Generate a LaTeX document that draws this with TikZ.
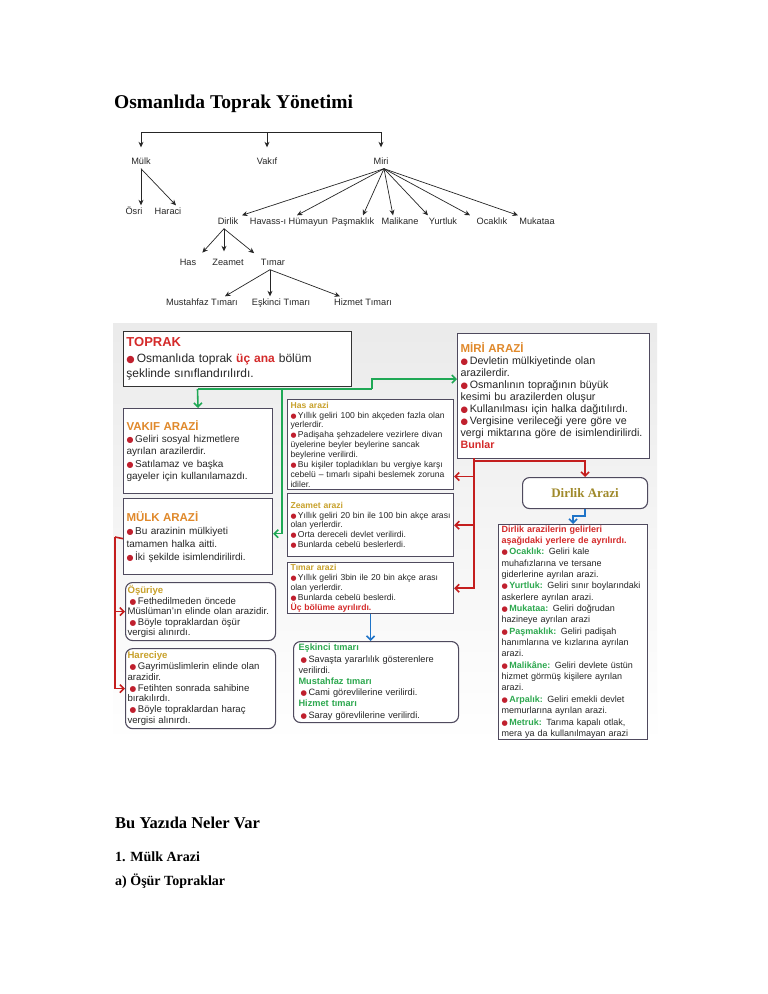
\documentclass[tikz,border=0pt]{standalone}
\usepackage{fontspec}
\setmainfont{Liberation Serif}
\setsansfont{Liberation Sans}
\newfontfamily\symfont{DejaVu Sans}
\usepackage{xcolor}
\usepackage{graphicx}
\usepackage{tikz}
\usetikzlibrary{arrows.meta, positioning}
\definecolor{tred}{HTML}{D42A2A}
\definecolor{torange}{HTML}{E0892B}
\definecolor{tolive}{HTML}{C8A12B}
\definecolor{tgreen}{HTML}{2DA84F}
\definecolor{tgold}{HTML}{A08A2C}
\definecolor{tbull}{HTML}{C0202E}
\definecolor{tframe}{HTML}{4F4A5E}
\definecolor{gline}{HTML}{1FA855}
\definecolor{rline}{HTML}{C41E1E}
\definecolor{bline}{HTML}{1F74C8}
\newcommand{\bul}{{\symfont\color{tbull}\scalebox{0.8}{●}}\,}
\newcommand{\bas}[2]{{\color{#1}\bfseries #2}}
\tikzstyle{agac} = [font=\sffamily\fontsize{9.2}{10}\selectfont, text=black!85, text height=7pt, text depth=2pt, inner sep=2pt]
\tikzstyle{okagac} = [-{Stealth[length=5.5pt, width=5pt]}, line width=0.7pt, black!85]
\tikzstyle{kutu} = [rectangle, draw=tframe, line width=1.1pt, fill=white, anchor=north west, align=left, inner xsep=3pt, inner ysep=1pt, text=black!85]
\tikzstyle{yuvarlak} = [kutu, rounded corners=7pt]
\tikzstyle{yesilhat} = [line width=1.6pt, draw=gline]
\tikzstyle{yesilok} = [yesilhat, -{Straight Barb[length=4pt, width=8pt]}]
\tikzstyle{kirmiziok} = [line width=1.6pt, draw=rline, -{Straight Barb[length=4pt, width=8pt]}]
\tikzstyle{maviok} = [line width=1.6pt, draw=bline, -{Straight Barb[length=4pt, width=8pt]}]
\tikzstyle{baslik} = [anchor=base west, inner sep=0pt, font=\bfseries]

\begin{document}
\begin{tikzpicture}[x=1pt, y=-1pt]
    \fill[white] (0,0) rectangle (768,994);
    \useasboundingbox (0,0) rectangle (768,994);

    % headings
    \node (anabaslik) [baslik, font=\bfseries\fontsize{19.5}{22}\selectfont] at (114,108) {Osmanlıda Toprak Yönetimi};
    \node (neler) [baslik, font=\bfseries\fontsize{16.5}{19}\selectfont] at (115,828) {Bu Yazıda Neler Var};
    \node (mulkbas) [baslik, font=\bfseries\fontsize{14}{16}\selectfont] at (115,861) {1. Mülk Arazi};
    \node (osurbas) [baslik, font=\bfseries\fontsize{14}{16}\selectfont] at (115,885) {a) Öşür Topraklar};

    % tree
    \coordinate (ust) at (267,132);
    \node (tmulk) [agac] at (141,162) {Mülk};
    \node (tvakif) [agac] at (267,162) {Vakıf};
    \node (tmiri) [agac] at (381,162) {Miri};
    \node (osri) [agac] at (134,212) {Ösri};
    \node (haraci) [agac] at (168,212) {Haraci};
    \node (tdirlik) [agac] at (228,222) {Dirlik};
    \node (havass) [agac] at (289,222) {Havass-ı Hümayun};
    \node (pasmaklik) [agac] at (353,222) {Paşmaklık};
    \node (malikane) [agac] at (400,222) {Malikane};
    \node (yurtluk) [agac] at (443,222) {Yurtluk};
    \node (ocaklik) [agac] at (492,222) {Ocaklık};
    \node (mukataa) [agac] at (537,222) {Mukataa};
    \node (thas) [agac] at (188,263) {Has};
    \node (tzeamet) [agac] at (228,263) {Zeamet};
    \node (ttimar) [agac] at (273,263) {Tımar};
    \node (mustahfaz) [agac] at (202,303) {Mustahfaz Tımarı};
    \node (teskinci) [agac] at (281,303) {Eşkinci Tımarı};
    \node (hizmet) [agac] at (363,303) {Hizmet Tımarı};

    \draw [okagac, shorten >=8pt] (ust) -| (tmulk);
    \draw [okagac, shorten >=8pt] (ust) -- (tvakif);
    \draw [okagac, shorten >=8pt] (ust) -| (tmiri);
    \draw [okagac] (tmulk.south) -- (osri.north -| tmulk.south);
    \draw [okagac] (tmulk.south) -- ([xshift=8pt]haraci.north);
    \draw [okagac] ([xshift=3pt]tmiri.south) -- ([xshift=14pt]tdirlik.north);
    \draw [okagac] ([xshift=3pt]tmiri.south) -- ([xshift=8pt]havass.north);
    \draw [okagac] ([xshift=3pt]tmiri.south) -- ([xshift=10pt]pasmaklik.north);
    \draw [okagac] ([xshift=3pt]tmiri.south) -- ([xshift=-7pt]malikane.north);
    \draw [okagac] ([xshift=3pt]tmiri.south) -- ([xshift=-15pt]yurtluk.north);
    \draw [okagac] ([xshift=3pt]tmiri.south) -- ([xshift=-22pt]ocaklik.north);
    \draw [okagac] ([xshift=3pt]tmiri.south) -- ([xshift=-19pt]mukataa.north);
    \draw [okagac, shorten >=5pt] ([xshift=-4pt]tdirlik.south) -- ([xshift=11pt]thas.north);
    \draw [okagac, shorten >=5pt] ([xshift=-4pt]tdirlik.south) -- ([xshift=-4pt]tzeamet.north);
    \draw [okagac, shorten >=5pt] ([xshift=-4pt]tdirlik.south) -- ([xshift=-15pt]ttimar.north);
    \draw [okagac] ([xshift=-3pt]ttimar.south) -- ([xshift=23pt]mustahfaz.north);
    \draw [okagac] ([xshift=-3pt]ttimar.south) -- ([xshift=-11pt]teskinci.north);
    \draw [okagac] ([xshift=-3pt]ttimar.south) -- ([xshift=-23pt]hizmet.north);

    % chart panel
    \fill [top color=gray!16, bottom color=white] (113,323) rectangle (657,744);

    \node (toprak) [kutu, draw=black!80, line width=0.9pt, minimum width=228pt, minimum height=55pt, text width=222pt, font=\sffamily\fontsize{12}{15.5}\selectfont] at (123,331)
        {\bas{tred}{\fontsize{13}{15.5}\selectfont TOPRAK}\\ \bul Osmanlıda toprak \bas{tred}{üç ana} bölüm\\ şeklinde sınıflandırılırdı.};
    \node (vakif) [kutu, minimum width=149pt, minimum height=85pt, text width=143pt, font=\sffamily\fontsize{10}{12.4}\selectfont] at (123,408)
        {\bas{torange}{\fontsize{11.5}{13}\selectfont VAKIF ARAZİ}\\ \bul Geliri sosyal hizmetlere\\ ayrılan arazilerdir.\\ \bul Satılamaz ve başka\\ gayeler için kullanılamazdı.};
    \node (mulk) [kutu, below=4pt of vakif, minimum width=149pt, minimum height=76pt, text width=143pt, font=\sffamily\fontsize{10}{13}\selectfont]
        {\bas{torange}{\fontsize{11.5}{13}\selectfont MÜLK ARAZİ}\\ \bul Bu arazinin mülkiyeti\\ tamamen halka aitti.\\ \bul İki şekilde isimlendirilirdi.};
    \node (miri) [kutu, minimum width=192pt, minimum height=125pt, text width=186pt, font=\sffamily\fontsize{10.7}{12}\selectfont] at (457,333)
        {\bas{torange}{\fontsize{11.5}{13}\selectfont MİRİ ARAZİ}\\ \bul Devletin mülkiyetinde olan\\ arazilerdir.\\ \bul Osmanlının toprağının büyük\\ kesimi bu arazilerden oluşur\\ \bul Kullanılması için halka dağıtılırdı.\\ \bul Vergisine verileceği yere göre ve\\ vergi miktarına göre de isimlendirilirdi.\\ \bas{tred}{Bunlar}};

    \node (has) [kutu, minimum width=166pt, minimum height=90pt, text width=160pt, font=\sffamily\fontsize{8.6}{9.85}\selectfont] at (287,399)
        {\bas{tolive}{Has arazi}\\ \bul Yıllık geliri 100 bin akçeden fazla olan\\ yerlerdir.\\ \bul Padişaha şehzadelere vezirlere divan\\ üyelerine beyler beylerine sancak\\ beylerine verilirdi.\\ \bul Bu kişiler topladıkları bu vergiye karşı\\ cebelü – tımarlı sipahi beslemek zoruna\\ idiler.};
    \node (zeamet) [kutu, below=3pt of has, minimum width=166pt, minimum height=63pt, text width=160pt, font=\sffamily\fontsize{8.6}{9.8}\selectfont]
        {\bas{tolive}{Zeamet arazi}\\ \bul Yıllık geliri 20 bin ile 100 bin akçe arası\\ olan yerlerdir.\\ \bul Orta dereceli devlet verilirdi.\\ \bul Bunlarda cebelü beslerlerdi.};
    \node (timar) [kutu, below=5pt of zeamet, minimum width=166pt, minimum height=51pt, text width=160pt, font=\sffamily\fontsize{8.6}{10}\selectfont]
        {\bas{tolive}{Tımar arazi}\\ \bul Yıllık geliri 3bin ile 20 bin akçe arası\\ olan yerlerdir.\\ \bul Bunlarda cebelü beslerdi.\\ \bas{tred}{Üç bölüme ayrılırdı.}};
    \node (eskinci) [yuvarlak, minimum width=165pt, minimum height=81pt, text width=155pt, inner xsep=5pt, font=\sffamily\fontsize{9.2}{11.2}\selectfont] at (293,641)
        {\bas{tgreen}{Eşkinci tımarı}\\ \hspace{2pt}\bul Savaşta yararlılık gösterenlere\\ verilirdi.\\ \bas{tgreen}{Mustahfaz tımarı}\\ \hspace{2pt}\bul Cami görevlilerine verilirdi.\\ \bas{tgreen}{Hizmet tımarı}\\ \hspace{2pt}\bul Saray görevlilerine verilirdi.};

    \node (dirlik) [yuvarlak, minimum width=125pt, minimum height=31pt, align=center, font=\bfseries\fontsize{13}{15}\selectfont, text=tgold] at (522,477) {Dirlik Arazi};
    \node (detay) [kutu, minimum width=149pt, minimum height=208pt, text width=143pt, font=\sffamily\fontsize{9}{11.35}\selectfont] at (498,524)
        {\bas{tred}{Dirlik arazilerin gelirleri}\\ \bas{tred}{aşağıdaki yerlere de ayrılırdı.}\\
         \bul\bas{tgreen}{Ocaklık:} Geliri kale\\ muhafızlarına ve tersane\\ giderlerine ayrılan arazi.\\
         \bul\bas{tgreen}{Yurtluk:} Geliri sınır boylarındaki\\ askerlere ayrılan arazi.\\
         \bul\bas{tgreen}{Mukataa:} Geliri doğrudan\\ hazineye ayrılan arazi\\
         \bul\bas{tgreen}{Paşmaklık:} Geliri padişah\\ hanımlarına ve kızlarına ayrılan\\ arazi.\\
         \bul\bas{tgreen}{Malikâne:} Geliri devlete üstün\\ hizmet görmüş kişilere ayrılan\\ arazi.\\
         \bul\bas{tgreen}{Arpalık:} Geliri emekli devlet\\ memurlarına ayrılan arazi.\\
         \bul\bas{tgreen}{Metruk:} Tarıma kapalı otlak,\\ mera ya da kullanılmayan arazi};

    \node (osuriye) [yuvarlak, minimum width=150pt, minimum height=58pt, text width=146pt, inner xsep=2pt, font=\sffamily\fontsize{9.6}{10.5}\selectfont] at (125,582)
        {\bas{tolive}{Öşüriye}\\ \hspace{2pt}\bul Fethedilmeden öncede\\ Müslüman'ın elinde olan arazidir.\\ \hspace{2pt}\bul Böyle topraklardan öşür\\ vergisi alınırdı.};
    \node (hareciye) [yuvarlak, below=7pt of osuriye, minimum width=150pt, minimum height=80pt, text width=146pt, inner xsep=2pt, font=\sffamily\fontsize{9.6}{10.8}\selectfont]
        {\bas{tolive}{Hareciye}\\ \hspace{2pt}\bul Gayrimüslimlerin elinde olan\\ arazidir.\\ \hspace{2pt}\bul Fetihten sonrada sahibine\\ bırakılırdı.\\ \hspace{2pt}\bul Böyle topraklardan haraç\\ vergisi alınırdı.};

    % connectors
    \coordinate (ysol) at (197.5,389);
    \coordinate (yorta) at (282,389);
    \coordinate (ysag) at (372,389);
    \draw [yesilhat] (ysol) -- (ysag);
    \draw [yesilok] (ysol) -- (vakif.north);
    \draw [yesilok] (yorta) |- ([yshift=3pt]mulk.east);
    \draw [yesilok] (ysag) |- ([yshift=17pt]miri.west);

    \coordinate (kust) at (474,458);
    \draw [kirmiziok] (kust) |- ([yshift=-32pt]has.east);
    \draw [kirmiziok] (kust) |- (zeamet.east);
    \draw [kirmiziok] (kust) |- (timar.east);
    \draw [kirmiziok] ([yshift=-3pt]kust) -| (dirlik.north);

    \coordinate (ksol) at (115,537);
    \draw [line width=1.6pt, draw=rline] ([yshift=-2pt]mulk.west) -- (ksol);
    \draw [kirmiziok] (ksol) |- (osuriye.west);
    \draw [kirmiziok] (ksol) |- (hareciye.west);

    \draw [maviok] (timar.south) -- (timar.south |- eskinci.north);
    \draw [maviok] (dirlik.south) -- ++(0,7) -| (detay.north);
\end{tikzpicture}
\end{document}
